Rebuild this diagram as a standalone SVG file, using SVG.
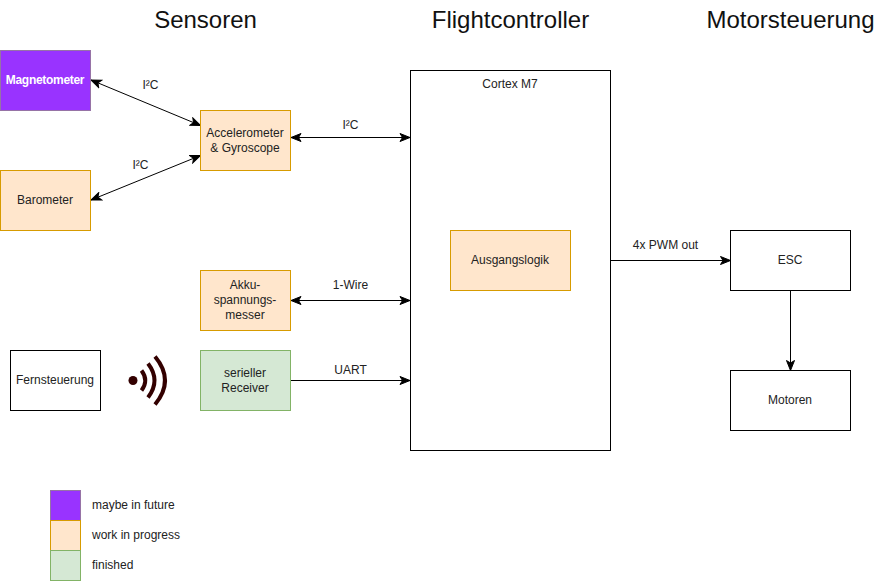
<svg xmlns="http://www.w3.org/2000/svg" width="886" height="581" viewBox="0 0 886 581">
<defs>
<marker id="a" viewBox="0 0 12 10" refX="11" refY="5" markerWidth="12" markerHeight="10" markerUnits="userSpaceOnUse" orient="auto-start-reverse"><path d="M1 1L11 5L1 9L3.5 5Z" fill="#000" stroke="#000" stroke-width="1"/></marker>
</defs>
<style>
text{font-family:"Liberation Sans",Arial,sans-serif;font-size:12px;fill:#222;text-anchor:middle}
.t{font-size:24px;fill:#111}
.l{text-anchor:start}
rect{stroke-width:1}
.o{fill:#ffe6cc;stroke:#d79b00}
.p{fill:#9933ff;stroke:#9673a6}
.g{fill:#d5e8d4;stroke:#82b366}
.w{fill:#fff;stroke:#000}
.c{fill:none;stroke:#000;stroke-width:1}
</style>
<rect width="886" height="581" fill="#fff"/>
<text class="t" x="205.500" y="28">Sensoren</text>
<text class="t" x="510.500" y="28">Flightcontroller</text>
<text class="t" x="790.500" y="28">Motorsteuerung</text>
<g id="connectors">
<path class="c" d="M91 80L200.500 125.500" marker-start="url(#a)" marker-end="url(#a)"/>
<path class="c" d="M91 200L200.500 155.500" marker-start="url(#a)" marker-end="url(#a)"/>
<path class="c" d="M291 137.500H410" marker-start="url(#a)" marker-end="url(#a)"/>
<path class="c" d="M291 300.500H410" marker-start="url(#a)" marker-end="url(#a)"/>
<path class="c" d="M290.500 380.500H410" marker-end="url(#a)"/>
<path class="c" d="M610.500 260.500H730.500" marker-end="url(#a)"/>
<path class="c" d="M790.500 290.500V370.500" marker-end="url(#a)"/>
</g>
<g id="edge-labels">
<text x="150.500" y="89">I²C</text>
<text x="140.500" y="169">I²C</text>
<text x="350.500" y="129">I²C</text>
<text x="350.500" y="289">1-Wire</text>
<text x="350.500" y="374">UART</text>
<text x="665.500" y="249">4x PWM out</text>
</g>
<g id="magnetometer"><rect class="p" x="0.500" y="50.500" width="90" height="60"/><text x="45" y="84" style="fill:#fff;font-weight:bold;font-size:12px;letter-spacing:-.3px">Magnetometer</text></g>
<g id="barometer"><rect class="o" x="0.500" y="170.500" width="90" height="60"/><text x="45" y="204">Barometer</text></g>
<g id="accel"><rect class="o" x="200.500" y="110.500" width="90" height="60"/><text x="245" y="137">Accelerometer</text><text x="245" y="152">&amp; Gyroscope</text></g>
<g id="akku"><rect class="o" x="200.500" y="270.500" width="90" height="60"/><text x="245" y="289">Akku-</text><text x="245" y="304">spannungs-</text><text x="245" y="319">messer</text></g>
<g id="fernsteuerung"><rect class="w" x="10.500" y="350.500" width="90" height="60"/><text x="55" y="384">Fernsteuerung</text></g>
<g id="funk" fill="none" stroke="#330000" stroke-width="4">
<circle cx="133" cy="380.500" r="4.500" fill="#330000" stroke="none"/>
<path d="M141.500 370.500Q149 380.500 141.500 390.500"/>
<path d="M148 363.500Q161 380.500 148 397.500"/>
<path d="M155 356.500Q175 380.500 155 404.500"/>
</g>
<g id="receiver"><rect class="g" x="200.500" y="350.500" width="90" height="60"/><text x="245" y="377">serieller</text><text x="245" y="392">Receiver</text></g>
<g id="cortex"><rect class="w" x="410.500" y="70.500" width="200" height="380"/><text x="510" y="88">Cortex M7</text></g>
<g id="ausgangslogik"><rect class="o" x="450.500" y="230.500" width="120" height="60"/><text x="510" y="264">Ausgangslogik</text></g>
<g id="esc"><rect class="w" x="730.500" y="230.500" width="120" height="60"/><text x="790" y="264">ESC</text></g>
<g id="motoren"><rect class="w" x="730.500" y="370.500" width="120" height="60"/><text x="790" y="404">Motoren</text></g>
<g id="legend">
<rect class="p" x="50.500" y="490.500" width="30" height="30"/>
<rect class="o" x="50.500" y="520.500" width="30" height="30"/>
<rect class="g" x="50.500" y="550.500" width="30" height="30"/>
<text class="l" x="92" y="509">maybe in future</text>
<text class="l" x="92" y="539">work in progress</text>
<text class="l" x="92" y="569">finished</text>
</g>
</svg>
